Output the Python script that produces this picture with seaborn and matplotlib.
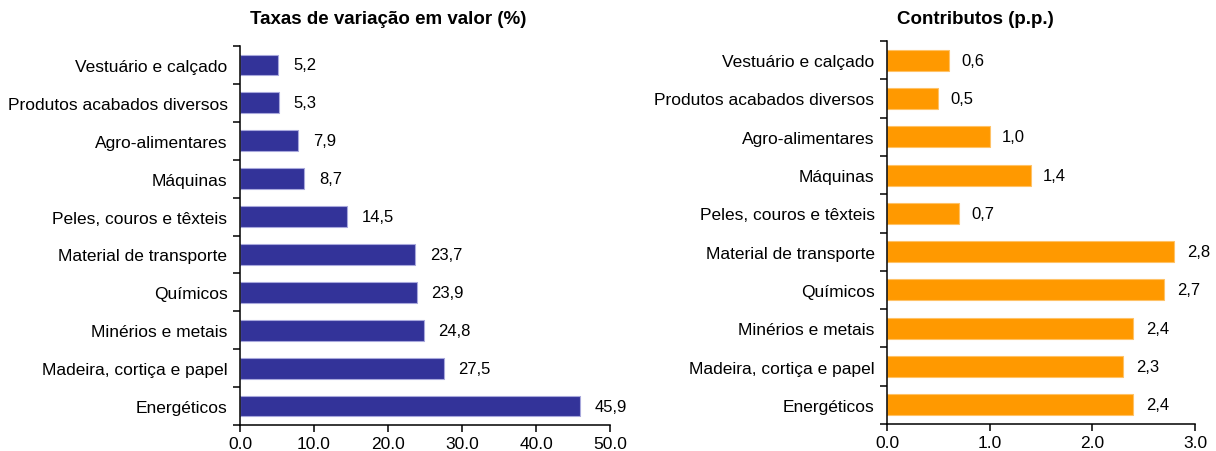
import numpy as np
import pandas as pd
import matplotlib
matplotlib.use("Agg")
import matplotlib.pyplot as plt
import seaborn as sns
from matplotlib.ticker import FixedLocator, FuncFormatter

categories = ["Vestuário e calçado", "Produtos acabados diversos", "Agro-alimentares",
              "Máquinas", "Peles, couros e têxteis", "Material de transporte",
              "Químicos", "Minérios e metais", "Madeira, cortiça e papel", "Energéticos"]
taxas = [5.2, 5.3, 7.9, 8.7, 14.5, 23.7, 23.9, 24.8, 27.5, 45.9]
contributos = [0.6, 0.5, 1.0, 1.4, 0.7, 2.8, 2.7, 2.4, 2.3, 2.4]
title_left = "Taxas de variação em valor (%)"
title_right = "Contributos (p.p.)"

sns.set_theme(style="white")
plt.rcParams["font.family"] = ["Liberation Sans", "DejaVu Sans"]
plt.rcParams["text.color"] = "black"

df = pd.DataFrame({"cat": categories, "taxa": taxas, "contr": contributos})

fig = plt.figure(figsize=(12.16, 4.52), dpi=100)
axL = fig.add_axes([240/1216, 1-426/452, (610-240)/1216, (426-47)/452])
axR = fig.add_axes([887/1216, 1-425/452, (1195-887)/1216, (425-42)/452])

FS = 12.5
FSV = 12

def style(ax, vals, color, edge, xmax, step, fmt_off):
    sns.barplot(data=df, y="cat", x=vals, order=categories, orient="h",
                color=color, saturation=1, width=0.55, edgecolor=edge,
                linewidth=0.8, ax=ax)
    ax.set_xlim(0, xmax)
    ax.set_ylim(9.5, -0.5)
    ax.set_xlabel("")
    ax.set_ylabel("")
    ax.set_xticks(np.arange(0, xmax + step/2, step))
    ax.xaxis.set_major_formatter(FuncFormatter(lambda v, p: f"{v:.1f}"))
    ax.yaxis.set_minor_locator(FixedLocator(np.arange(-0.5, 10, 1)))
    ax.tick_params(axis="y", which="major", length=0, labelsize=FS, pad=9, colors="black")
    ax.tick_params(axis="y", which="minor", length=5, width=1.1, direction="out", left=True, color="black")
    ax.tick_params(axis="x", which="major", length=5, width=1.1, direction="out", bottom=True,
                   labelsize=FS, pad=3, colors="black")
    for s in ["top", "right"]:
        ax.spines[s].set_visible(False)
    for s in ["left", "bottom"]:
        ax.spines[s].set_visible(True)
        ax.spines[s].set_color("black")
        ax.spines[s].set_linewidth(1.1)
    data = df[vals].tolist()
    for i, v in enumerate(data):
        ax.annotate(f"{v:.1f}".replace(".", ","), xy=(v, i), xytext=(fmt_off, 0),
                    textcoords="offset points", va="center", ha="left", fontsize=FSV,
                    color="black")

style(axL, "taxa", "#333399", "#a8a8dc", 50, 10, 10.5)
style(axR, "contr", "#FF9900", "#ffc266", 3.0, 1.0, 9)

fig.text(388/1216, 1-20/452, title_left, ha="center", va="center", fontsize=13.5,
         fontweight="bold", color="black")
fig.text(975/1216, 1-20/452, title_right, ha="center", va="center", fontsize=13.5,
         fontweight="bold", color="black")

fig.savefig("out.png", dpi=100)
